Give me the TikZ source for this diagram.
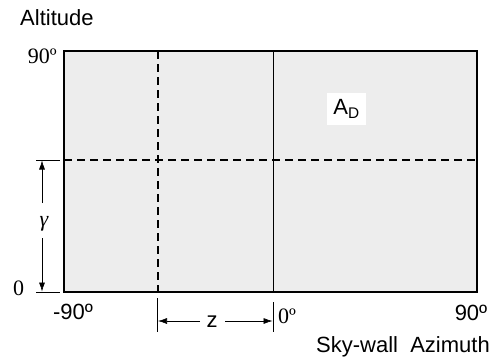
\documentclass[tikz,border=0pt]{standalone}
\usepackage{fontspec}
\setmainfont{Liberation Serif}
\setsansfont{Liberation Sans}
\usetikzlibrary{arrows.meta}
\begin{document}
\begin{tikzpicture}[x=1pt,y=-1pt,
  sanslbl/.style={font=\sffamily\fontsize{22}{25}\selectfont, inner sep=0pt},
  seriflbl/.style={font=\rmfamily\fontsize{22}{25}\selectfont, inner sep=0pt},
  dashln/.style={line width=1.8pt, dash pattern=on 8pt off 5pt},
  dimln/.style={line width=0.6pt},
  dimarrow/.style={line width=0.6pt, -{Latex[length=9pt,width=6pt]}}]
\useasboundingbox (0,0) rectangle (503,360);
% panel
\coordinate (tl) at (64,51);
\coordinate (br) at (477,292);
\fill[black!7] (tl) rectangle (br);
% dashed lines
\coordinate (vdtop) at (158,51);
\coordinate (vdbot) at (158,292);
\coordinate (hdl) at (64,160);
\coordinate (hdr) at (477,160);
\draw[dashln] (vdtop) -- (vdbot);
\draw[dashln] (hdl) -- (hdr);
% zero azimuth line
\coordinate (ztop) at (273,51);
\coordinate (zbot) at (273,292);
\draw[line width=0.8pt] (ztop) -- (zbot);
\draw[line width=1.4pt] (tl) rectangle (br);
% A_D
\node[sanslbl, fill=white, minimum width=39pt, minimum height=32pt] (ad) at (346.5,109) {A\textsubscript{D}};
% labels
\node[sanslbl, anchor=base west] (alt) at (20,25) {Altitude};
\node[seriflbl, anchor=base east] (n90) at (57,63) {90º};
\node[seriflbl, anchor=base west] (n0) at (13,295) {0};
\node[sanslbl, anchor=base] (m90) at (73,319) {-90º};
\node[sanslbl, anchor=base] (p90) at (471,320) {90º};
\node[seriflbl, anchor=base west] (z0) at (278,323) {0º};
\node[sanslbl, anchor=base east] (az) at (490,352) {Sky-wall\ \ Azimuth};
% gamma dimension
\coordinate (gt1) at (36,160);
\coordinate (gt2) at (60,160);
\coordinate (gb1) at (36,292);
\coordinate (gb2) at (60,292);
\draw[dimln] (gt1) -- (gt2);
\draw[dimln] (gb1) -- (gb2);
\node[seriflbl] (gam) at (44,224) {\itshape γ};
\coordinate (gup) at (42,160.5);
\coordinate (gdn) at (42,291.5);
\draw[dimarrow] (42,203) -- (gup);
\draw[dimarrow] (42,238) -- (gdn);
% z dimension
\coordinate (zl1) at (157.5,298);
\coordinate (zl2) at (157.5,332);
\coordinate (zr1) at (273,302);
\coordinate (zr2) at (273,332);
\draw[dimln] (zl1) -- (zl2);
\draw[dimln] (zr1) -- (zr2);
\node[sanslbl, anchor=base] (zlbl) at (212,327) {z};
\coordinate (zla) at (158,321);
\coordinate (zra) at (272.5,321);
\draw[dimarrow] (200,321) -- (zla);
\draw[dimarrow] (225,321) -- (zra);
\end{tikzpicture}
\end{document}
